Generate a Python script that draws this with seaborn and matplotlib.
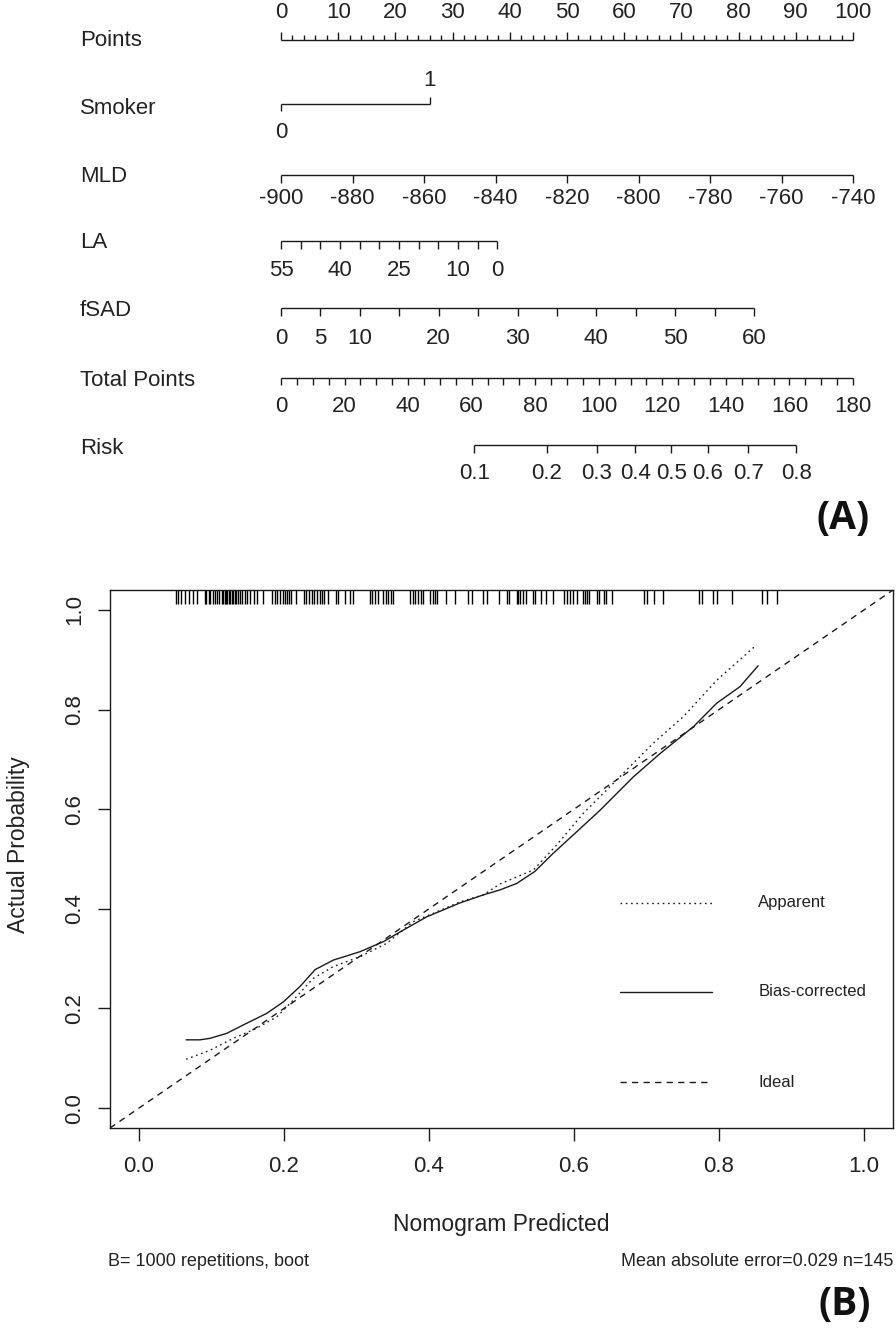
import matplotlib
matplotlib.use("Agg")
import matplotlib.pyplot as plt
import seaborn as sns
import numpy as np

# ---------------- data ----------------
points_labels = [0, 10, 20, 30, 40, 50, 60, 70, 80, 90, 100]
smoker_levels = ["0", "1"]
smoker_points = [0, 26]
mld_values = [-900, -880, -860, -840, -820, -800, -780, -760, -740]
la_values = [55, 50, 45, 40, 35, 30, 25, 20, 15, 10, 5, 0]
la_labels = [55, 40, 25, 10, 0]
la_max_points = 37.8
fsad_values = [0, 5, 10, 15, 20, 25, 30, 35, 40, 45, 50, 55, 60]
fsad_labels = [0, 5, 10, 20, 30, 40, 50, 60]
fsad_max_points = 82.7
total_ticks = list(range(0, 181, 5))
total_labels = list(range(0, 181, 20))
risk_values = [0.1, 0.2, 0.3, 0.4, 0.5, 0.6, 0.7, 0.8]
risk_total_points = [60.8, 83.6, 99.4, 111.5, 122.8, 134.3, 147.0, 162.2]

bias_x = [0.065, 0.084, 0.098, 0.121, 0.144, 0.176, 0.199, 0.222, 0.243, 0.268,
          0.305, 0.337, 0.369, 0.397, 0.443, 0.475, 0.498, 0.521, 0.546, 0.571,
          0.604, 0.636, 0.682, 0.719, 0.765, 0.797, 0.829, 0.854]
bias_y = [0.137, 0.137, 0.140, 0.150, 0.167, 0.190, 0.213, 0.244, 0.278, 0.297,
          0.314, 0.334, 0.361, 0.384, 0.412, 0.428, 0.438, 0.451, 0.475, 0.511,
          0.555, 0.598, 0.665, 0.712, 0.766, 0.813, 0.846, 0.888]
app_x = [0.065, 0.098, 0.130, 0.162, 0.190, 0.213, 0.240, 0.268, 0.305, 0.342,
         0.378, 0.406, 0.443, 0.475, 0.498, 0.544, 0.576, 0.613, 0.659, 0.709,
         0.751, 0.797, 0.852]
app_y = [0.098, 0.116, 0.140, 0.160, 0.183, 0.217, 0.260, 0.284, 0.304, 0.331,
         0.374, 0.391, 0.414, 0.428, 0.450, 0.478, 0.528, 0.592, 0.659, 0.732,
         0.786, 0.859, 0.930]
rug_pred = [0.051, 0.054, 0.058, 0.063, 0.069, 0.074, 0.080, 0.091, 0.093, 0.096,
            0.098, 0.102, 0.105, 0.107, 0.111, 0.114, 0.116, 0.118, 0.120, 0.122,
            0.124, 0.126, 0.128, 0.130, 0.132, 0.134, 0.136, 0.139, 0.142, 0.146,
            0.149, 0.153, 0.159, 0.163, 0.171, 0.184, 0.188, 0.191, 0.194, 0.198,
            0.201, 0.204, 0.207, 0.209, 0.217, 0.227, 0.230, 0.235, 0.238, 0.241,
            0.245, 0.249, 0.252, 0.255, 0.261, 0.272, 0.275, 0.284, 0.291, 0.295,
            0.318, 0.321, 0.326, 0.329, 0.337, 0.341, 0.344, 0.347, 0.350, 0.374,
            0.378, 0.381, 0.385, 0.389, 0.392, 0.401, 0.405, 0.408, 0.411, 0.424,
            0.436, 0.454, 0.459, 0.475, 0.480, 0.496, 0.507, 0.511, 0.521, 0.523,
            0.526, 0.530, 0.534, 0.544, 0.546, 0.555, 0.562, 0.571, 0.586, 0.590,
            0.594, 0.599, 0.604, 0.612, 0.615, 0.618, 0.621, 0.632, 0.635, 0.641,
            0.644, 0.652, 0.697, 0.700, 0.710, 0.723, 0.772, 0.776, 0.792, 0.797,
            0.818, 0.859, 0.866, 0.880]
calib_ticks = [0.0, 0.2, 0.4, 0.6, 0.8, 1.0]
legend_names = ["Apparent", "Bias-corrected", "Ideal"]

# ---------------- style ----------------
sns.set_theme(style="white")
plt.rcParams["font.family"] = ["Liberation Sans", "DejaVu Sans"]
TXT = "#222222"
LN = "#1a1a1a"

W, H = 896, 1331
fig = plt.figure(figsize=(W / 100, H / 100), dpi=100)

# ---------------- (A) nomogram ----------------
top_h = 545
ax1 = fig.add_axes([0, 1 - top_h / H, 1, top_h / H])
pp = 5.72  # pixels per point
ax1.set_xlim(-281 / pp, (W - 281) / pp)
ax1.set_ylim(top_h, 0)
ax1.axis("off")
fs = 16
lw = 1.0
name_x = (80 - 281) / pp


def hline(y, x0, x1):
    ax1.plot([x0, x1], [y, y], color=LN, lw=lw, solid_capstyle="butt")


def ticks(y, xs, length):
    for x in xs:
        ax1.plot([x, x], [y, y + length], color=LN, lw=lw, solid_capstyle="butt")


def labels(y, xs, texts):
    for x, t in zip(xs, texts):
        ax1.text(x, y, str(t), ha="center", va="center", fontsize=fs, color=TXT)


def name(y, t):
    ax1.text(name_x, y, t, ha="left", va="center", fontsize=fs, color=TXT)


# Points
y = 40
hline(y, 0, 100)
ticks(y, [v for v in range(0, 101, 2) if v % 10], -5)
ticks(y, points_labels, -8)
labels(12, points_labels, points_labels)
name(41, "Points")

# Smoker
y = 104
hline(y, smoker_points[0], smoker_points[1])
ticks(y, [smoker_points[0]], 7)
ticks(y, [smoker_points[1]], -7)
ax1.text(smoker_points[1], 80, smoker_levels[1], ha="center", va="center", fontsize=fs, color=TXT)
ax1.text(smoker_points[0], 133, smoker_levels[0], ha="center", va="center", fontsize=fs, color=TXT)
name(108, "Smoker")

# MLD
y = 175
mld_pts = [(v - mld_values[0]) / (mld_values[-1] - mld_values[0]) * 100 for v in mld_values]
hline(y, mld_pts[0], mld_pts[-1])
ticks(y, mld_pts, 8)
labels(199, mld_pts, mld_values)
name(176, "MLD")

# LA
y = 241
la_pts = [(la_values[0] - v) / la_values[0] * la_max_points for v in la_values]
hline(y, la_pts[0], la_pts[-1])
ticks(y, la_pts, 8)
labels(270, [(la_values[0] - v) / la_values[0] * la_max_points for v in la_labels], la_labels)
name(243, "LA")

# fSAD
y = 308
fs_pts = [v / fsad_values[-1] * fsad_max_points for v in fsad_values]
hline(y, fs_pts[0], fs_pts[-1])
ticks(y, fs_pts, 8)
labels(338, [v / fsad_values[-1] * fsad_max_points for v in fsad_labels], fsad_labels)
name(311, "fSAD")

# Total Points
y = 378
tscale = 100 / 180
hline(y, 0, 180 * tscale)
ticks(y, [t * tscale for t in total_ticks], 7)
labels(406, [t * tscale for t in total_labels], total_labels)
name(380, "Total Points")

# Risk
y = 445
rk = [t * tscale for t in risk_total_points]
hline(y, rk[0], rk[-1])
ticks(y, rk, 8)
labels(473, rk, risk_values)
name(448, "Risk")

fig.text(843 / W, 1 - 519 / H, "(A)", fontsize=28, fontweight="bold",
         ha="center", va="center", family="Open Sans", color="#111111")

# ---------------- (B) calibration ----------------
ax2 = fig.add_axes([110 / W, 1 - 1128 / H, 783 / W, 538 / H])
ax2.set_xlim(-0.04, 1.04)
ax2.set_ylim(-0.04, 1.04)

ax2.axline((0, 0), slope=1, color=LN, lw=1.0, dashes=(4.5, 3.8))
sns.lineplot(x=app_x, y=app_y, ax=ax2, color=LN, lw=1.0, sort=False, estimator=None)
ax2.lines[-1].set_dashes((1.2, 2.6))
sns.lineplot(x=bias_x, y=bias_y, ax=ax2, color=LN, lw=1.0, sort=False, estimator=None)

ax2.vlines(rug_pred, 1 - 0.026, 1, transform=ax2.get_xaxis_transform(),
           color="black", lw=1.0)

# legend drawn like R's
leg_y = [0.412, 0.234, 0.052]
leg_styles = [(1.2, 2.6), None, (4.5, 3.8)]
for name_, ly, st in zip(legend_names, leg_y, leg_styles):
    ln, = ax2.plot([0.663, 0.791], [ly, ly], color=LN, lw=1.0)
    if st is not None:
        ln.set_dashes(st)
    ax2.text(0.854, ly, name_, ha="left", va="center", fontsize=12, color=TXT)

ax2.set_xticks(calib_ticks)
ax2.set_xticklabels([f"{v:.1f}" for v in calib_ticks])
ax2.set_yticks(calib_ticks)
ax2.set_yticklabels([f"{v:.1f}" for v in calib_ticks], rotation=90, va="center")
ax2.tick_params(axis="both", length=9, width=1, color=LN, labelsize=16,
                labelcolor=TXT, direction="out", bottom=True, left=True)
ax2.tick_params(axis="x", pad=11)
ax2.tick_params(axis="y", pad=9)
for s in ax2.spines.values():
    s.set_color(LN)
    s.set_linewidth(1.0)
    s.set_visible(True)
ax2.grid(False)
ax2.set_xlabel("")
ax2.set_ylabel("")

fig.text(501 / W, 1 - 1225 / H, "Nomogram Predicted", ha="center", va="center",
         fontsize=16.5, color=TXT)
fig.text(18 / W, 1 - 845 / H, "Actual Probability", ha="center", va="center",
         rotation=90, fontsize=16.5, color=TXT)
fig.text(108 / W, 1 - 1262 / H, "B= 1000 repetitions, boot", ha="left", va="center",
         fontsize=13, color=TXT)
fig.text(893 / W, 1 - 1262 / H, "Mean absolute error=0.029 n=145", ha="right",
         va="center", fontsize=13, color=TXT)
fig.text(845 / W, 1 - 1305 / H, "(B)", fontsize=28, fontweight="bold",
         ha="center", va="center", family="Open Sans", color="#111111")

fig.savefig("out.png", dpi=100)
